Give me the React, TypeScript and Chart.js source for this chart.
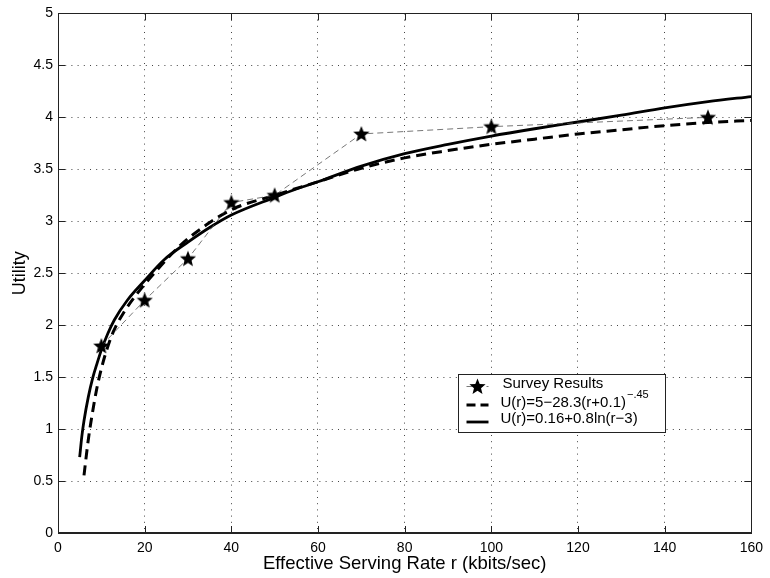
import React, { useEffect, useRef } from "react";
import { Chart, registerables } from "chart.js";

Chart.register(...registerables);

// Survey results (stars, thin dashed connector)
const surveyRate = [10, 20, 30, 40, 50, 70, 100, 150];
const surveyUtility = [1.8, 2.24, 2.64, 3.18, 3.25, 3.84, 3.91, 4.0];

// Power-law fit (thick dashed curve)
const powerRate = [6, 7, 8, 9, 10, 11, 12.7, 15.3, 18.4, 22.2, 28.3, 34.4, 40.5, 50, 60, 70, 80, 90, 100, 110, 120, 130, 140, 150, 160];
const powerUtility = [0.555, 0.9, 1.17, 1.4, 1.58, 1.73, 1.93, 2.13, 2.31, 2.5, 2.77, 2.97, 3.12, 3.25, 3.38, 3.51, 3.61, 3.68, 3.74, 3.79, 3.84, 3.88, 3.92, 3.95, 3.97];

// Logarithmic fit (thick solid curve)
const logRate = [5, 5.5, 6, 7, 8, 9, 10, 11.5, 13, 16, 20, 24.5, 30, 35, 40, 50, 55, 60, 70, 80, 90, 100, 110, 120, 130, 140, 150, 160];
const logUtility = [0.73, 0.93, 1.08, 1.31, 1.49, 1.63, 1.76, 1.92, 2.05, 2.24, 2.43, 2.63, 2.8, 2.94, 3.06, 3.23, 3.31, 3.38, 3.53, 3.65, 3.74, 3.82, 3.89, 3.955, 4.02, 4.09, 4.15, 4.2];

const legendLabels = ["Survey Results", "U(r)=5\u221228.3(r+0.1)", "U(r)=0.16+0.8ln(r\u22123)"];
const legendSuperscript = "\u2212.45";

const xTitle = "Effective Serving Rate r (kbits/sec)";
const yTitle = "Utility";

const FONT = "'Liberation Sans', Arial, Helvetica, sans-serif";

function drawStar(ctx: CanvasRenderingContext2D, cx: number, cy: number, R: number, r: number) {
  ctx.beginPath();
  for (let i = 0; i < 10; i++) {
    const rad = i % 2 === 0 ? R : r;
    const a = -Math.PI / 2 + (i * Math.PI) / 5;
    const x = cx + rad * Math.cos(a);
    const y = cy + rad * Math.sin(a);
    if (i === 0) ctx.moveTo(x, y);
    else ctx.lineTo(x, y);
  }
  ctx.closePath();
  ctx.fill();
}

function makeStarImage(): HTMLCanvasElement {
  const c = document.createElement("canvas");
  c.width = 18;
  c.height = 18;
  const g = c.getContext("2d")!;
  g.fillStyle = "#000";
  drawStar(g, 9, 9.5, 8.5, 3.7);
  return c;
}

const framePlugin = {
  id: "matlabFrame",
  afterDraw(chart: any) {
    const { ctx, chartArea: a, scales } = chart;
    ctx.save();
    // box
    ctx.strokeStyle = "#222";
    ctx.lineWidth = 1;
    ctx.setLineDash([]);
    ctx.strokeRect(Math.round(a.left) + 0.5, Math.round(a.top) + 0.5, Math.round(a.right - a.left), Math.round(a.bottom - a.top) - 1);
    // inward ticks
    const L = 7;
    ctx.beginPath();
    scales.x.ticks.forEach((t: any) => {
      const p = Math.round(scales.x.getPixelForValue(t.value)) + 0.5;
      ctx.moveTo(p, a.bottom);
      ctx.lineTo(p, a.bottom - L);
      ctx.moveTo(p, a.top);
      ctx.lineTo(p, a.top + L);
    });
    scales.y.ticks.forEach((t: any) => {
      const p = Math.round(scales.y.getPixelForValue(t.value)) + 0.5;
      ctx.moveTo(a.left, p);
      ctx.lineTo(a.left + L, p);
      ctx.moveTo(a.right, p);
      ctx.lineTo(a.right - L, p);
    });
    ctx.stroke();

    // legend box
    const bx = Math.round(a.left + 400) + 0.5;
    const by = Math.round(a.top + 361) + 0.5;
    const bw = 207;
    const bh = 58;
    ctx.fillStyle = "#fff";
    ctx.fillRect(bx, by, bw, bh);
    ctx.strokeStyle = "#222";
    ctx.lineWidth = 1;
    ctx.strokeRect(bx, by, bw, bh);

    const rows = [by + 12, by + 30.5, by + 47.5];
    const lx0 = bx + 8;
    const lx1 = bx + 30;
    const tx = bx + 42;

    // row 1: thin dashed line + star
    ctx.strokeStyle = "#555";
    ctx.lineWidth = 0.8;
    ctx.setLineDash([6, 4]);
    ctx.beginPath();
    ctx.moveTo(lx0, rows[0]);
    ctx.lineTo(lx1, rows[0]);
    ctx.stroke();
    ctx.setLineDash([]);
    ctx.fillStyle = "#000";
    drawStar(ctx, bx + 19, rows[0] + 0.5, 8.5, 3.7);

    // row 2: thick dashed
    ctx.strokeStyle = "#000";
    ctx.lineWidth = 3;
    ctx.setLineDash([9, 5]);
    ctx.beginPath();
    ctx.moveTo(lx0, rows[1]);
    ctx.lineTo(lx1, rows[1]);
    ctx.stroke();
    ctx.setLineDash([]);

    // row 3: thick solid
    ctx.lineWidth = 2.8;
    ctx.beginPath();
    ctx.moveTo(lx0, rows[2]);
    ctx.lineTo(lx1, rows[2]);
    ctx.stroke();

    // texts
    ctx.fillStyle = "#000";
    ctx.textAlign = "left";
    ctx.textBaseline = "alphabetic";
    ctx.font = `15px ${FONT}`;
    ctx.fillText(legendLabels[0], tx + 2, rows[0] + 1);
    ctx.fillText(legendLabels[1], tx, rows[1] + 1.5);
    const w = ctx.measureText(legendLabels[1]).width;
    ctx.fillText(legendLabels[2], tx, rows[2] + 1);
    ctx.font = `11px ${FONT}`;
    ctx.fillText(legendSuperscript, tx + w + 1, rows[1] - 7);

    ctx.restore();
  },
};

export default function App() {
  const ref = useRef<HTMLCanvasElement | null>(null);

  useEffect(() => {
    if (!ref.current) return;
    const star = makeStarImage();
    const toPts = (xs: number[], ys: number[]) => xs.map((x, i) => ({ x, y: ys[i] }));
    const chart = new Chart(ref.current, {
      type: "scatter",
      data: {
        datasets: [
          {
            label: legendLabels[0],
            data: toPts(surveyRate, surveyUtility),
            showLine: true,
            borderColor: "#555",
            borderWidth: 0.8,
            borderDash: [6, 4],
            pointStyle: star as any,
            pointRadius: 9,
            backgroundColor: "#000",
            tension: 0,
            order: 0,
          },
          {
            label: legendLabels[1],
            data: toPts(powerRate, powerUtility),
            showLine: true,
            borderColor: "#000",
            borderWidth: 3,
            borderDash: [10, 6],
            pointRadius: 0,
            cubicInterpolationMode: "monotone",
            order: 1,
          },
          {
            label: legendLabels[2],
            data: toPts(logRate, logUtility),
            showLine: true,
            borderColor: "#000",
            borderWidth: 2.8,
            pointRadius: 0,
            cubicInterpolationMode: "monotone",
            order: 2,
          },
        ] as any,
      },
      options: {
        responsive: false,
        animation: false,
        events: [],
        layout: { padding: { left: 0, right: 13, top: 10, bottom: 0 } },
        plugins: {
          legend: { display: false },
          tooltip: { enabled: false },
        },
        scales: {
          x: {
            type: "linear",
            min: 0,
            max: 160,
            ticks: {
              stepSize: 20,
              padding: 7,
              color: "#000",
              font: { family: FONT, size: 14 },
              callback: (v: any) => String(v),
            },
            grid: { color: "#444", lineWidth: 1, drawTicks: false },
            border: { display: true, color: "#222", width: 1, dash: [1, 5.2] },
            title: {
              display: true,
              text: xTitle,
              color: "#000",
              font: { family: FONT, size: 18.5 },
              padding: { top: 0, bottom: 3 },
            },
            afterFit: (s: any) => {
              s.height = 45;
            },
          },
          y: {
            type: "linear",
            min: 0,
            max: 5,
            ticks: {
              stepSize: 0.5,
              padding: 5,
              color: "#000",
              font: { family: FONT, size: 14 },
              callback: (v: any) => String(v),
            },
            grid: { color: "#444", lineWidth: 1, drawTicks: false },
            border: { display: true, color: "#222", width: 1, dash: [1, 5.2] },
            title: {
              display: true,
              text: yTitle,
              color: "#000",
              font: { family: FONT, size: 18 },
              padding: { top: 9, bottom: 0 },
            },
            afterFit: (s: any) => {
              s.width = 58;
            },
          },
        },
      } as any,
      plugins: [framePlugin],
    });
    return () => chart.destroy();
  }, []);

  return (
    <div style={{ position: "fixed", left: 0, top: 0, width: 770, height: 578, background: "#fff" }}>
      <canvas ref={ref} width={770} height={578} style={{ display: "block" }} />
    </div>
  );
}
